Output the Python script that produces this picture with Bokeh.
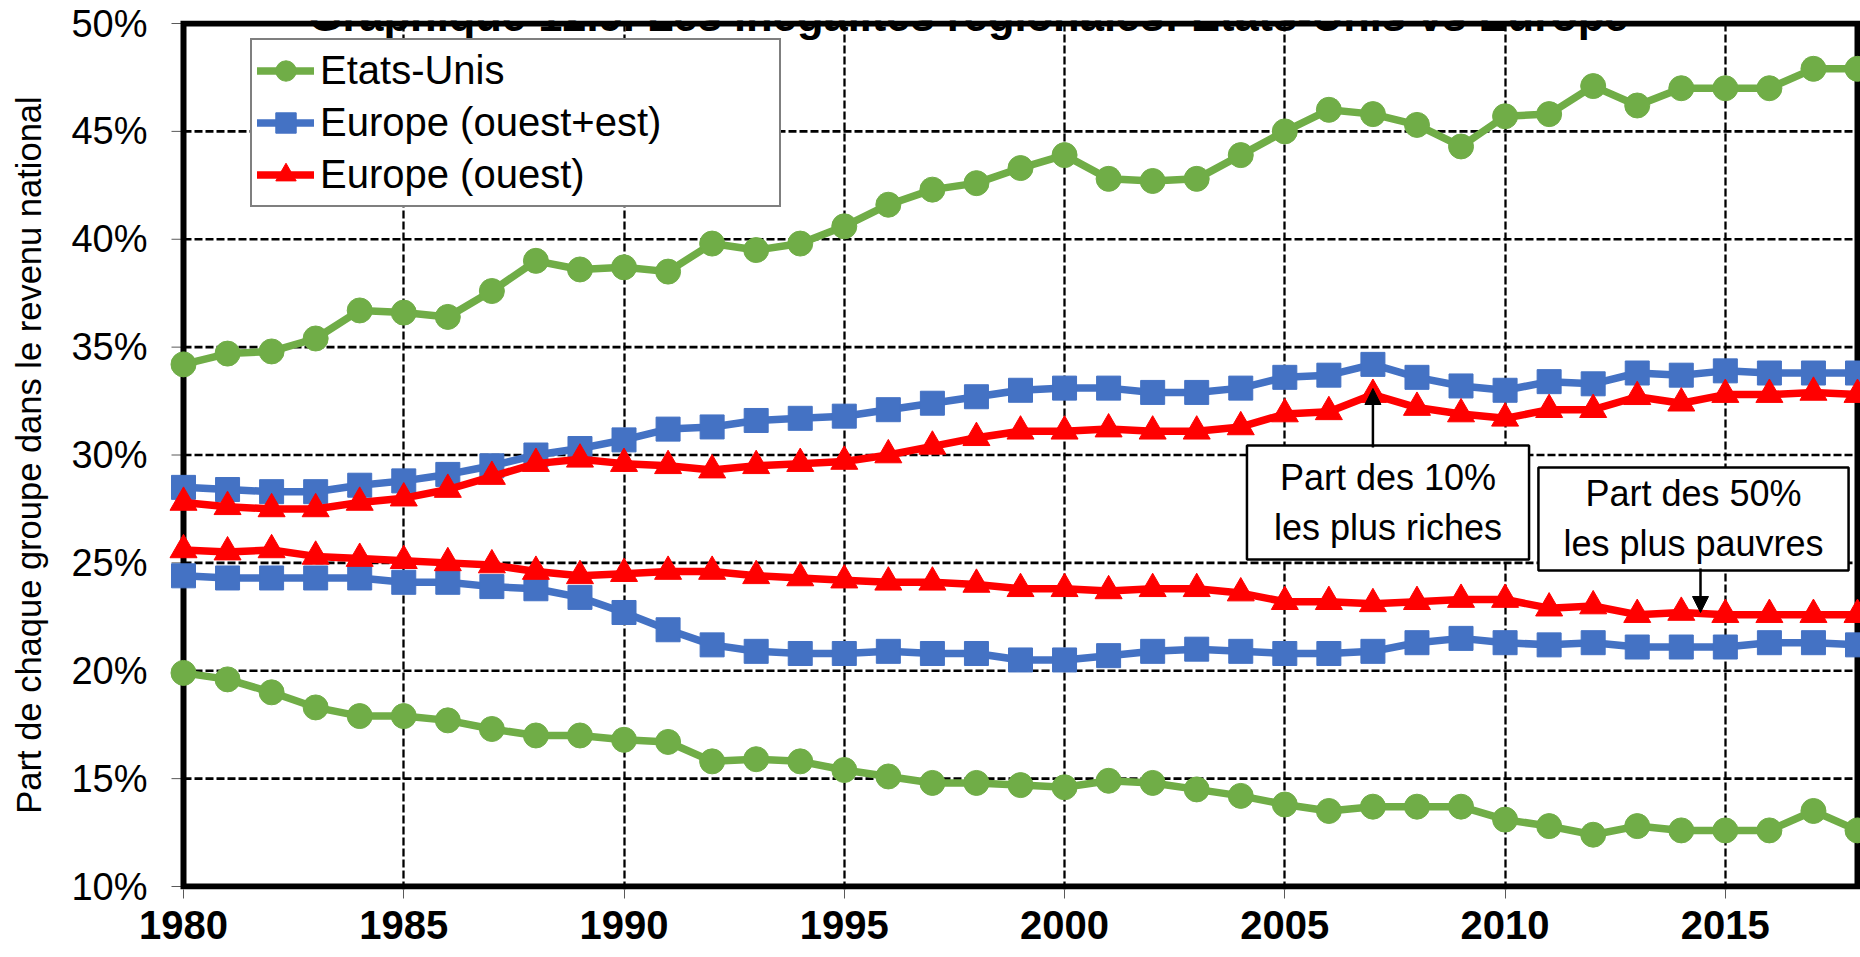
from bokeh.plotting import figure
from bokeh.models import (Range1d, FixedTicker, PrintfTickFormatter, Label, Arrow,
                          NormalHead, Legend, LegendItem)
from bokeh.embed import file_html
from bokeh.resources import INLINE

# ---------------- data ----------------
years = list(range(1980, 2019))

us_top10 = [34.2, 34.7, 34.8, 35.4, 36.7, 36.6, 36.4, 37.6, 39.0, 38.6,
            38.7, 38.5, 39.8, 39.5, 39.8, 40.6, 41.6, 42.3, 42.6, 43.3,
            43.9, 42.8, 42.7, 42.8, 43.9, 45.0, 46.0, 45.8, 45.3, 44.3,
            45.7, 45.8, 47.1, 46.2, 47.0, 47.0, 47.0, 47.9, 47.9]
us_bot50 = [19.9, 19.6, 19.0, 18.3, 17.9, 17.9, 17.7, 17.3, 17.0, 17.0,
            16.8, 16.7, 15.8, 15.9, 15.8, 15.4, 15.1, 14.8, 14.8, 14.7,
            14.6, 14.9, 14.8, 14.5, 14.2, 13.8, 13.5, 13.7, 13.7, 13.7,
            13.1, 12.8, 12.4, 12.8, 12.6, 12.6, 12.6, 13.5, 12.6]
eu_top10 = [28.5, 28.4, 28.3, 28.3, 28.6, 28.8, 29.1, 29.5, 30.0, 30.3,
            30.7, 31.2, 31.3, 31.6, 31.7, 31.8, 32.1, 32.4, 32.7, 33.0,
            33.1, 33.1, 32.9, 32.9, 33.1, 33.6, 33.7, 34.2, 33.6, 33.2,
            33.0, 33.4, 33.3, 33.8, 33.7, 33.9, 33.8, 33.8, 33.8]
eu_bot50 = [24.4, 24.3, 24.3, 24.3, 24.3, 24.1, 24.1, 23.9, 23.8, 23.4,
            22.7, 21.9, 21.2, 20.9, 20.8, 20.8, 20.9, 20.8, 20.8, 20.5,
            20.5, 20.7, 20.9, 21.0, 20.9, 20.8, 20.8, 20.9, 21.3, 21.5,
            21.3, 21.2, 21.3, 21.1, 21.1, 21.1, 21.3, 21.3, 21.2]
euw_top10 = [27.8, 27.6, 27.5, 27.5, 27.8, 28.0, 28.4, 29.0, 29.6, 29.8,
             29.6, 29.5, 29.3, 29.5, 29.6, 29.7, 30.0, 30.4, 30.8, 31.1,
             31.1, 31.2, 31.1, 31.1, 31.3, 31.9, 32.0, 32.8, 32.2, 31.9,
             31.7, 32.1, 32.1, 32.7, 32.4, 32.8, 32.8, 32.9, 32.8]
euw_bot50 = [25.6, 25.5, 25.6, 25.3, 25.2, 25.1, 25.0, 24.9, 24.6, 24.4,
             24.5, 24.6, 24.6, 24.4, 24.3, 24.2, 24.1, 24.1, 24.0, 23.8,
             23.8, 23.7, 23.8, 23.8, 23.6, 23.2, 23.2, 23.1, 23.2, 23.3,
             23.3, 22.9, 23.0, 22.6, 22.7, 22.6, 22.6, 22.6, 22.6]

series_names = ["Etats-Unis", "Europe (ouest+est)", "Europe (ouest)"]
x_ticks = [1980, 1985, 1990, 1995, 2000, 2005, 2010, 2015]
y_ticks = [10, 15, 20, 25, 30, 35, 40, 45, 50]

title_text = "Graphique 12.9. Les inégalités régionales: Etats-Unis vs Europe"
y_label_text = "Part de chaque groupe dans le revenu national"
note_top_text = "Part des 10%\nles plus riches"
note_bottom_text = "Part des 50%\nles plus pauvres"

# ---------------- geometry (page pixels) ----------------
W, H = 1860, 957
X0_PX, X1_PX = 183, 1857      # first / last year
YT_PX, YB_PX = 23, 886        # top / bottom of value axis
FRAME_L, FRAME_R, FRAME_T, FRAME_B = 161, 1860, 20, 889

px_year = (X1_PX - X0_PX) / (years[-1] - years[0])
px_pct = (YB_PX - YT_PX) / (y_ticks[-1] - y_ticks[0])


def xd(px):
    return years[0] + (px - X0_PX) / px_year


def yd(py):
    return y_ticks[-1] - (py - YT_PX) / px_pct


FONT = "Liberation Sans"
GREEN, BLUE, RED = "#70AD47", "#4472C4", "#FF0000"

p = figure(width=W, height=H,
           x_range=Range1d(xd(FRAME_L), xd(FRAME_R)),
           y_range=Range1d(yd(FRAME_B), yd(FRAME_T)),
           output_backend="svg", toolbar_location=None,
           min_border_left=FRAME_L, min_border_right=W - FRAME_R,
           min_border_top=FRAME_T, min_border_bottom=H - FRAME_B)
p.outline_line_color = None
p.background_fill_color = "white"
p.border_fill_color = "white"

# grid
p.ygrid.visible = False
p.xgrid.ticker = FixedTicker(ticks=x_ticks[1:])
p.xgrid.grid_line_color = "black"
p.xgrid.grid_line_width = 2.3
p.xgrid.grid_line_dash = "8 3"

inner = y_ticks[1:-1]
p.segment(x0=[years[0]] * len(inner), y0=inner, x1=[years[-1]] * len(inner), y1=inner,
          line_color="black", line_width=2.7, line_dash="8 3")
# small y tick marks left of the value axis
p.segment(x0=[xd(X0_PX - 12)] * len(y_ticks), y0=y_ticks,
          x1=[years[0]] * len(y_ticks), y1=y_ticks,
          line_color="#595959", line_width=1)
# plot-area border
p.quad(left=[years[0]], right=[years[-1]], bottom=[y_ticks[0]], top=[y_ticks[-1]],
       fill_color=None, line_color="black", line_width=6, line_join="miter")

# axes
xa = p.xaxis[0]
xa.ticker = FixedTicker(ticks=x_ticks)
xa.axis_line_color = None
xa.major_tick_out = 9
xa.major_tick_in = 0
xa.major_tick_line_color = "#595959"
xa.minor_tick_line_color = None
xa.major_label_standoff = 12
xa.major_label_text_font = FONT
xa.major_label_text_font_style = "bold"
xa.major_label_text_font_size = "40px"
xa.major_label_text_color = "black"

ya = p.yaxis[0]
ya.ticker = FixedTicker(ticks=y_ticks)
ya.formatter = PrintfTickFormatter(format="%d%%")
ya.axis_line_color = None
ya.major_tick_out = 0
ya.major_tick_in = 0
ya.major_tick_line_color = None
ya.minor_tick_line_color = None
ya.major_label_standoff = 14
ya.major_label_text_font = FONT
ya.major_label_text_font_size = "38px"
ya.major_label_text_color = "black"
ya.axis_label = y_label_text
ya.axis_label_standoff = 20
ya.axis_label_text_font = FONT
ya.axis_label_text_font_style = "normal"
ya.axis_label_text_font_size = "34.5px"
ya.axis_label_text_color = "black"

# series
legend_items = []
specs = [(us_top10, us_bot50, GREEN, "circle", 25),
         (eu_top10, eu_bot50, BLUE, "square", 24),
         (euw_top10, euw_bot50, RED, "triangle", 27)]
for name, (top, bot, col, mk, sz) in zip(series_names, specs):
    rs = []
    for i, vals in enumerate((top, bot)):
        lr = p.line(years, vals, line_color=col, line_width=7.5, line_join="round", line_cap="round")
        sr = p.scatter(years, vals, marker=mk, size=sz, fill_color=col, line_color=col)
        if i == 0:
            rs = [lr, sr]
    legend_items.append(LegendItem(label=name, renderers=rs))

legend = Legend(items=legend_items, location=(250 - FRAME_L, FRAME_B - 207),
                padding=5, spacing=1, glyph_width=57, glyph_height=51, label_height=51,
                label_standoff=6, label_width=454, margin=0,
                label_text_font=FONT, label_text_font_size="40px", label_text_color="black",
                border_line_color="black", border_line_width=2,
                background_fill_color="white", background_fill_alpha=1.0)
p.add_layout(legend)

# annotations
p.add_layout(Label(x=xd(1387.5), y=yd(502), text=note_top_text, text_align="center",
                   text_baseline="middle", text_font=FONT, text_font_size="36px",
                   text_color="black", background_fill_color="white",
                   border_line_color="black", border_line_width=2.5,
                   padding=(27, 27, 12, 12)))
p.add_layout(Label(x=xd(1693), y=yd(518.5), text=note_bottom_text, text_align="center",
                   text_baseline="middle", text_font=FONT, text_font_size="36px",
                   text_color="black", background_fill_color="white",
                   border_line_color="black", border_line_width=2.5,
                   padding=(25, 25, 6, 7)))
p.add_layout(Arrow(end=NormalHead(size=16, fill_color="black", line_color="black"),
                   x_start=2007, y_start=yd(447), x_end=2007, y_end=yd(388),
                   line_color="black", line_width=2.5))
p.add_layout(Arrow(end=NormalHead(size=16, fill_color="black", line_color="black"),
                   x_start=xd(1700), y_start=yd(568), x_end=xd(1700), y_end=yd(612),
                   line_color="black", line_width=2.5))

# title (partly cut at the top, as in the reference)
p.add_layout(Label(x=xd(968), y=yd(15), text=title_text, text_align="center",
                   text_baseline="alphabetic", text_font=FONT, text_font_style="bold",
                   text_font_size="43.5px", text_color="black"))

open("out.html", "w").write(file_html(p, INLINE))
